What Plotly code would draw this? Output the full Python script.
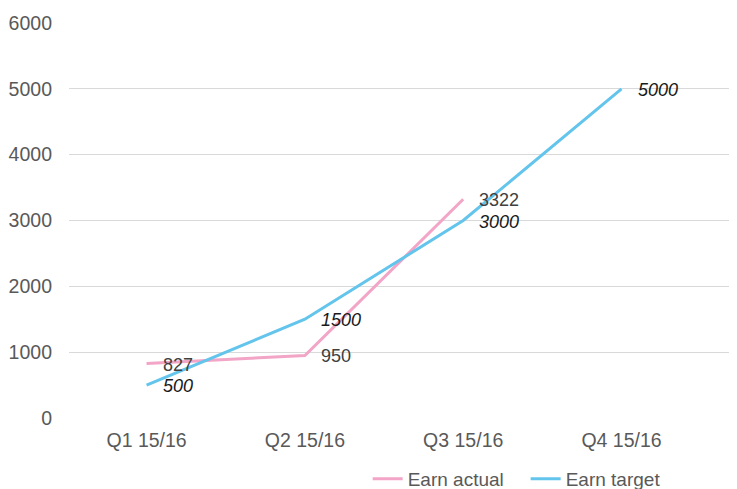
import plotly.graph_objects as go

categories = ["Q1 15/16", "Q2 15/16", "Q3 15/16", "Q4 15/16"]
earn_actual = [827, 950, 3322]
earn_target = [500, 1500, 3000, 5000]
y_ticks = [0, 1000, 2000, 3000, 4000, 5000, 6000]

pink = "#F2A5C6"
blue = "#63C4EC"
font = "Liberation Sans, Arial, sans-serif"

xa = list(range(len(earn_actual)))
xt = list(range(len(earn_target)))

fig = go.Figure()
fig.add_trace(go.Scatter(x=xa, y=earn_actual, mode="lines", name="Earn actual",
                         line=dict(color=pink, width=3)))
fig.add_trace(go.Scatter(x=xt, y=earn_target, mode="lines", name="Earn target",
                         line=dict(color=blue, width=3)))

for x, v in zip(xa, earn_actual):
    fig.add_annotation(x=x, y=v, text=str(v), showarrow=False, xanchor="left",
                       yanchor="middle", xshift=14, yshift=-1,
                       font=dict(family=font, size=18, color="#404040"))
for x, v in zip(xt, earn_target):
    fig.add_annotation(x=x, y=v, text="<i>%d</i>" % v, showarrow=False, xanchor="left",
                       yanchor="middle", xshift=14, yshift=-1,
                       font=dict(family=font, size=18, color="#1a1a1a"))

# page body has an 8px default margin; offsets compensate for it
fig.update_layout(
    width=737, height=489,
    margin=dict(l=61, r=0, t=15, b=79, autoexpand=False),
    plot_bgcolor="white", paper_bgcolor="white",
    font=dict(family=font, size=19.5, color="#595959"),
    xaxis=dict(tickvals=list(range(len(categories))), ticktext=categories,
               range=[-0.49, 3.78], showgrid=False, zeroline=False, showline=False,
               ticks="", ticklabelstandoff=8, fixedrange=True, automargin=False),
    yaxis=dict(range=[0, 6000], tickvals=y_ticks, showgrid=True, gridcolor="#D9D9D9",
               gridwidth=1, zeroline=False, ticks="", ticklabelstandoff=16, automargin=False),
    legend=dict(orientation="h", xref="container", yref="container",
                x=0.488, y=0.037, xanchor="left", yanchor="middle",
                font=dict(size=19, color="#595959"), entrywidth=113),
    showlegend=True,
)

fig.write_html("out.html")
